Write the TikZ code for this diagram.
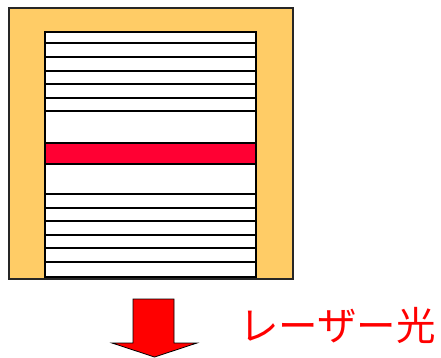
\documentclass[tikz,border=0pt]{standalone}
\usepackage{fontspec}
\newfontfamily\cjk{Noto Sans CJK JP}
\definecolor{frameorange}{HTML}{FFCC66}
\definecolor{bandred}{HTML}{FF0033}
\definecolor{arrowred}{HTML}{FF0000}
\begin{document}
\begin{tikzpicture}[x=1pt,y=-1pt,
  layer/.style={draw=black,line width=1.1pt},
  framebox/.style={draw=black!85,line width=1.3pt,fill=frameorange}]
\useasboundingbox (0,0) rectangle (441,357);
\fill[white] (0,0) rectangle (441,357);
% frame
\draw[framebox] (9,8) rectangle (293,279);
% inner stack
\draw[layer,fill=white] (45,32) rectangle (256,277);
\foreach \y in {43,57,71,84,98,111,194,208,221,235,248,262}
  \draw[layer] (45,\y) -- (256,\y);
% red band
\draw[layer,fill=bandred] (45,143) rectangle (256,164);
% arrow
\draw[draw=black,line width=0.8pt,fill=arrowred]
  (133,299) -- (174,299) -- (174,343) -- (197,343) -- (154.5,357) -- (112,343) -- (133,343) -- cycle;
% label
\node[text=arrowred,font=\cjk\fontsize{39.5}{41}\selectfont] (label) at (337.5,325) {レーザー光};
\end{tikzpicture}
\end{document}
